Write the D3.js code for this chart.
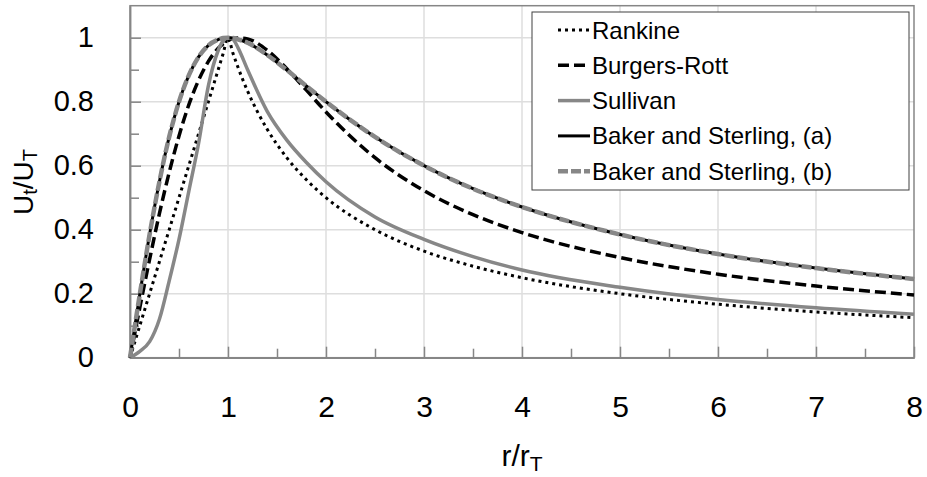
<!DOCTYPE html>
<html>
<head>
<meta charset="utf-8">
<script src="https://cdn.jsdelivr.net/npm/d3@7"></script>
<style>
    body { margin: 0; background: #fff; }
    text { font-family: "Liberation Sans", Arial, sans-serif; fill: #000; }
</style>
</head>
<body>
<script>
// r/rT sample points
var rValues = [0, 0.1, 0.2, 0.3, 0.4, 0.5, 0.6, 0.7, 0.8, 0.9, 0.95, 1.0, 1.05, 1.1, 1.2, 1.4, 1.6, 1.8, 2.0, 2.5, 3, 3.5, 4, 5, 6, 7, 8];

// Ut/UT for each model
var rankine = [0, 0.1, 0.2, 0.3, 0.4, 0.5, 0.6, 0.7, 0.8, 0.9, 0.95, 1.0, 0.952, 0.909, 0.833, 0.714, 0.625, 0.556, 0.5, 0.4, 0.333, 0.286, 0.25, 0.2, 0.167, 0.143, 0.125];
var burgersRott = [0, 0.156, 0.307, 0.45, 0.579, 0.693, 0.79, 0.867, 0.926, 0.967, 0.981, 0.991, 0.997, 0.999, 0.996, 0.961, 0.903, 0.836, 0.768, 0.625, 0.522, 0.447, 0.391, 0.313, 0.261, 0.224, 0.196];
var sullivan = [0, 0.02, 0.05, 0.12, 0.24, 0.37, 0.52, 0.67, 0.85, 0.96, 0.99, 1.0, 0.995, 0.97, 0.9, 0.77, 0.68, 0.61, 0.55, 0.44, 0.37, 0.316, 0.274, 0.22, 0.182, 0.156, 0.136];
var bakerSterlingA = [0, 0.198, 0.385, 0.55, 0.69, 0.8, 0.882, 0.94, 0.976, 0.994, 0.999, 1.0, 0.999, 0.995, 0.984, 0.946, 0.899, 0.849, 0.8, 0.69, 0.6, 0.528, 0.471, 0.385, 0.324, 0.28, 0.246];
var bakerSterlingB = [0, 0.198, 0.385, 0.55, 0.69, 0.8, 0.882, 0.94, 0.976, 0.994, 0.999, 1.0, 0.999, 0.995, 0.984, 0.946, 0.899, 0.849, 0.8, 0.69, 0.6, 0.528, 0.471, 0.385, 0.324, 0.28, 0.246];

var seriesNames = ["Rankine", "Burgers-Rott", "Sullivan", "Baker and Sterling, (a)", "Baker and Sterling, (b)"];

var xTicks = [0, 1, 2, 3, 4, 5, 6, 7, 8];
var xTickLabels = ["0", "1", "2", "3", "4", "5", "6", "7", "8"];
var xMinorTicks = [0.5, 1.5, 2.5, 3.5, 4.5, 5.5, 6.5, 7.5];
var yTicks = [0, 0.2, 0.4, 0.6, 0.8, 1];
var yTickLabels = ["0", "0.2", "0.4", "0.6", "0.8", "1"];
var yMinorTicks = [0.1, 0.3, 0.5, 0.7, 0.9];

(function () {
    var width = 927;
    var height = 477;
    var left = 130, right = 914, top = 5.7, bottom = 357.7;
    var axisGray = "#868686";
    var gridGray = "#dedede";

    var styles = [
        { color: "#000", width: 3, dash: "3,4" },
        { color: "#000", width: 3.5, dash: "11,5" },
        { color: "#878787", width: 3.5, dash: null },
        { color: "#000", width: 3, dash: null },
        { color: "#878787", width: 4.5, dash: "10,3" }
    ];
    var allSeries = [rankine, burgersRott, sullivan, bakerSterlingA, bakerSterlingB];

    var svg = d3.select("body").append("svg")
        .attr("width", width)
        .attr("height", height);

    var xScale = d3.scaleLinear().domain([0, 8]).range([left, right]);
    var yScale = d3.scaleLinear().domain([0, 1.1]).range([bottom, top]);

    // grid
    svg.append("g").selectAll("line")
        .data(yTicks.filter(function (d) { return d > 0; }))
        .enter().append("line")
        .attr("x1", left).attr("x2", right)
        .attr("y1", function (d) { return yScale(d); })
        .attr("y2", function (d) { return yScale(d); })
        .attr("stroke", gridGray).attr("stroke-width", 1.5);
    svg.append("g").selectAll("line")
        .data(xTicks.filter(function (d) { return d > 0 && d < 8; }))
        .enter().append("line")
        .attr("y1", top).attr("y2", bottom)
        .attr("x1", function (d) { return xScale(d); })
        .attr("x2", function (d) { return xScale(d); })
        .attr("stroke", gridGray).attr("stroke-width", 1.5);

    // frame
    svg.append("rect")
        .attr("x", left).attr("y", top)
        .attr("width", right - left).attr("height", bottom - top)
        .attr("fill", "none").attr("stroke", axisGray).attr("stroke-width", 1.5);

    // axes, ticks pointing inward
    var xAxis = svg.append("g")
        .attr("transform", "translate(0," + bottom + ")")
        .call(d3.axisBottom(xScale).tickValues(xTicks)
            .tickFormat(function (d, i) { return xTickLabels[i]; })
            .tickSizeInner(-11).tickSizeOuter(0).tickPadding(38));
    svg.append("g")
        .attr("transform", "translate(0," + bottom + ")")
        .call(d3.axisBottom(xScale).tickValues(xMinorTicks)
            .tickFormat("").tickSizeInner(-9).tickSizeOuter(0));
    var yAxis = svg.append("g")
        .attr("transform", "translate(" + left + ",0)")
        .call(d3.axisLeft(yScale).tickValues(yTicks)
            .tickFormat(function (d, i) { return yTickLabels[i]; })
            .tickSizeInner(-11).tickSizeOuter(0).tickPadding(36));
    svg.append("g")
        .attr("transform", "translate(" + left + ",0)")
        .call(d3.axisLeft(yScale).tickValues(yMinorTicks)
            .tickFormat("").tickSizeInner(-9).tickSizeOuter(0));

    svg.selectAll(".domain, .tick line")
        .attr("stroke", axisGray).attr("stroke-width", 1.5);
    xAxis.selectAll("text").attr("font-size", 30).attr("font-family", null).attr("fill", "#000");
    yAxis.selectAll("text").attr("font-size", 29).attr("font-family", null).attr("fill", "#000");

    // curves
    var line = d3.line()
        .x(function (d) { return xScale(d[0]); })
        .y(function (d) { return yScale(d[1]); })
        .curve(d3.curveMonotoneX);

    allSeries.forEach(function (values, i) {
        var pts = rValues.map(function (r, j) { return [r, values[j]]; });
        svg.append("path")
            .attr("d", line(pts))
            .attr("fill", "none")
            .attr("stroke", styles[i].color)
            .attr("stroke-width", styles[i].width)
            .attr("stroke-dasharray", styles[i].dash);
    });

    // axis titles
    var yTitle = svg.append("text")
        .attr("transform", "translate(33,182) rotate(-90)")
        .attr("text-anchor", "middle")
        .attr("font-size", 28);
    yTitle.append("tspan").text("U");
    yTitle.append("tspan").attr("font-size", 20).attr("dy", 4).text("t");
    yTitle.append("tspan").attr("dy", -4).text("/U");
    yTitle.append("tspan").attr("font-size", 20).attr("dy", 4).text("T");

    var xTitle = svg.append("text")
        .attr("x", 522).attr("y", 466)
        .attr("text-anchor", "middle")
        .attr("font-size", 30);
    xTitle.append("tspan").text("r/r");
    xTitle.append("tspan").attr("font-size", 21).attr("dy", 5).text("T");

    // legend
    var legend = svg.append("g");
    legend.append("rect")
        .attr("x", 532).attr("y", 12)
        .attr("width", 377).attr("height", 178)
        .attr("fill", "#fff").attr("stroke", "#404040").attr("stroke-width", 1);
    seriesNames.forEach(function (name, i) {
        var y = 30 + i * 35.3;
        legend.append("line")
            .attr("x1", 558).attr("x2", 590)
            .attr("y1", y).attr("y2", y)
            .attr("stroke", styles[i].color)
            .attr("stroke-width", styles[i].width)
            .attr("stroke-dasharray", styles[i].dash);
        legend.append("text")
            .attr("x", 592).attr("y", y + 8.5)
            .attr("font-size", 24)
            .text(name);
    });
})();
</script>
</body>
</html>
